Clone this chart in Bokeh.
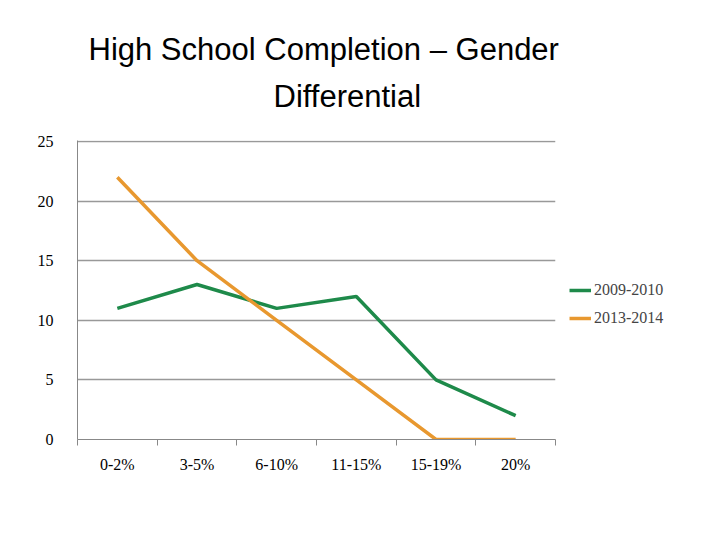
from bokeh.plotting import figure
from bokeh.models import FixedTicker, Title, Legend, LegendItem
from bokeh.embed import file_html
from bokeh.resources import INLINE

categories = ["0-2%", "3-5%", "6-10%", "11-15%", "15-19%", "20%"]
s2009 = [11, 13, 11, 12, 5, 2]
s2013 = [22, 15, 10, 5, 0, 0]
xs = list(range(1, len(categories) + 1))

p = figure(frame_width=478, frame_height=299, output_backend="svg", toolbar_location=None,
           x_range=(0.5, 6.5), y_range=(0, 25.08),
           min_border_left=77, min_border_right=10, min_border_bottom=60, min_border_top=10)
p.title.visible = False
p.outline_line_color = None

l1 = p.line(xs, s2009, line_color="#1e8a4a", line_width=3.5)
l2 = p.line(xs, s2013, line_color="#e8982f", line_width=3.5)

p.xaxis.ticker = FixedTicker(ticks=xs, minor_ticks=[0.5 + i for i in range(7)])
p.xaxis.major_label_overrides = {x: c for x, c in zip(xs, categories)}
p.xaxis.major_tick_line_color = None
p.xaxis.minor_tick_out = 6
p.xaxis.minor_tick_in = 0
p.xaxis.minor_tick_line_color = "#888888"
p.xaxis.axis_line_color = "#888888"
p.xaxis.major_label_standoff = 10
p.yaxis.ticker = FixedTicker(ticks=[0, 5, 10, 15, 20, 25])
p.yaxis.major_tick_line_color = None
p.yaxis.minor_tick_line_color = None
p.yaxis.axis_line_color = "#888888"
p.yaxis.major_label_standoff = 18
for ax in (p.xaxis, p.yaxis):
    ax.major_label_text_font = "Liberation Serif"
    ax.major_label_text_font_size = "16px"
    ax.major_label_text_color = "black"
p.xgrid.grid_line_color = None
p.ygrid.grid_line_color = "#999999"
p.ygrid.grid_line_width = 1.5

legend = Legend(items=[LegendItem(label="2009-2010", renderers=[l1]),
                       LegendItem(label="2013-2014", renderers=[l2])],
                location=(14, 111), border_line_color=None, background_fill_alpha=0,
                label_text_font="Liberation Serif", label_text_font_size="16px",
                glyph_width=22, spacing=8, padding=0, label_standoff=3)
p.add_layout(legend, "right")

t2 = Title(text="Differential", text_font="Liberation Sans", text_font_size="31px",
           text_font_style="normal", text_color="black", align="left", offset=196)
t1 = Title(text="High School Completion \u2013 Gender", text_font="Liberation Sans",
           text_font_size="31px", text_font_style="normal", text_color="black",
           align="left", offset=11)
p.add_layout(Title(text=" ", text_font_size="9px"), "above")
p.add_layout(t2, "above")
p.add_layout(t1, "above")
p.add_layout(Title(text=" ", text_font_size="11px"), "above")

open("out.html", "w").write(file_html(p, INLINE))
